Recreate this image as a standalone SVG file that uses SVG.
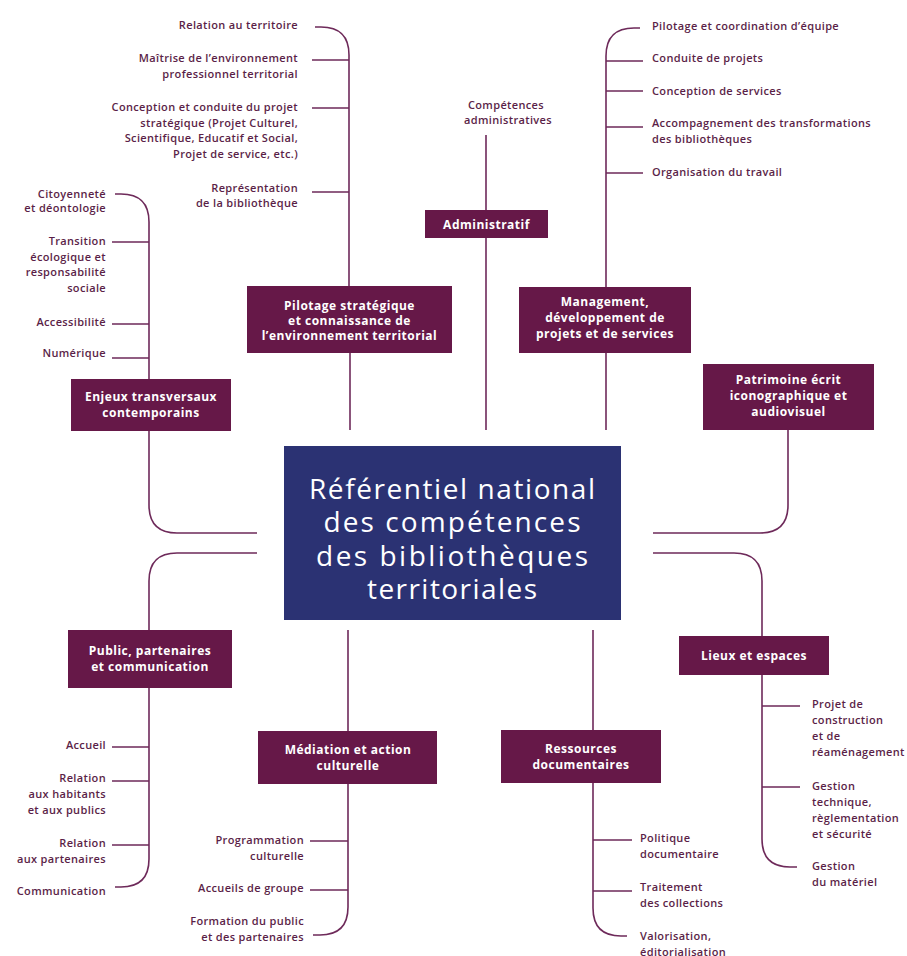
<svg xmlns="http://www.w3.org/2000/svg" width="907" height="956" viewBox="0 0 907 956">
<style>
.bg{fill:#ffffff}
.box{fill:#661848}
.center{fill:#2b3273}
.bt{font-family:"Open Sans","Liberation Sans",sans-serif;font-size:12px;letter-spacing:0.5px;font-weight:700;fill:#ffffff;text-anchor:middle}
.ct{font-family:"Open Sans","Liberation Sans",sans-serif;font-size:28px;font-weight:400;fill:#ffffff;text-anchor:middle}
.lf{font-family:"Open Sans","Liberation Sans",sans-serif;font-size:11px;letter-spacing:0.35px;font-weight:600;fill:#5b1f48}
.e{text-anchor:end}
.s{text-anchor:start}
.m{text-anchor:middle}
.ln{fill:none;stroke:#6e2a5a;stroke-width:1.6}
</style>
<rect class="bg" x="0" y="0" width="907" height="956"/>
<g id="connectors">
<path class="ln" d="M315,27 H321 Q349,27 349,55 V286"/>
<path class="ln" d="M312,60 H349 M312,108 H349 M312,192 H349"/>
<path class="ln" d="M350,353 V430"/>
<path class="ln" d="M486,135 V210 M486,238 V430"/>
<path class="ln" d="M640,28 H634 Q606,28 606,56 V287"/>
<path class="ln" d="M606,61 H643 M606,91 H643 M606,127 H643 M606,173 H643"/>
<path class="ln" d="M606,353 V430"/>
<path class="ln" d="M115,194 H121 Q149,194 149,222 V379"/>
<path class="ln" d="M112,242 H149 M112,324 H149 M112,358 H149"/>
<path class="ln" d="M149,431 V505 Q149,533 177,533 H257"/>
<path class="ln" d="M653,533 H760 Q788,533 788,505 V430"/>
<path class="ln" d="M257,553 H177 Q149,553 149,581 V630"/>
<path class="ln" d="M149,688 V859 Q149,887 121,887 H115"/>
<path class="ln" d="M112,747 H149 M112,781 H149 M112,845 H149"/>
<path class="ln" d="M348,630 V731 M348,784 V907 Q348,935 320,935 H313"/>
<path class="ln" d="M310,841 H348 M310,890 H348"/>
<path class="ln" d="M593,630 V730 M593,783 V908 Q593,936 621,936 H627"/>
<path class="ln" d="M593,840 H632 M593,891 H632"/>
<path class="ln" d="M653,553 H734 Q762,553 762,581 V636"/>
<path class="ln" d="M762,675 V839 Q762,867 790,867 H797"/>
<path class="ln" d="M762,706 H800 M762,787 H800"/>
</g>
<g id="center-node">
<rect class="center" x="284" y="446" width="337" height="174"/>
<text class="ct" x="452" y="499" textLength="286" lengthAdjust="spacing">Référentiel national</text>
<text class="ct" x="452" y="532" textLength="257" lengthAdjust="spacing">des compétences</text>
<text class="ct" x="452" y="566" textLength="272" lengthAdjust="spacing">des bibliothèques</text>
<text class="ct" x="452" y="599" textLength="170" lengthAdjust="spacing">territoriales</text>
</g>
<g id="node-pilotage">
<rect class="box" x="247" y="286" width="205" height="67"/>
<text class="bt" x="349.5" y="309.5">Pilotage stratégique</text>
<text class="bt" x="349.5" y="324.5">et connaissance de</text>
<text class="bt" x="349.5" y="339.5">l’environnement territorial</text>
</g>
<g id="leaves-pilotage">
<text class="lf e" x="298" y="29">Relation au territoire</text>
<text class="lf e" x="298" y="62">Maîtrise de l’environnement</text>
<text class="lf e" x="298" y="78">professionnel territorial</text>
<text class="lf e" x="298" y="111">Conception et conduite du projet</text>
<text class="lf e" x="298" y="126.7">stratégique (Projet Culturel,</text>
<text class="lf e" x="298" y="142.4">Scientifique, Educatif et Social,</text>
<text class="lf e" x="298" y="158">Projet de service, etc.)</text>
<text class="lf e" x="298" y="192">Représentation</text>
<text class="lf e" x="298" y="207">de la bibliothèque</text>
</g>
<g id="node-administratif">
<rect class="box" x="425" y="210" width="123" height="28"/>
<text class="bt" x="486.5" y="228.5">Administratif</text>
</g>
<g id="leaves-administratif">
<text class="lf m" x="506" y="109">Compétences</text>
<text class="lf m" x="508" y="124">administratives</text>
</g>
<g id="node-management">
<rect class="box" x="519" y="287" width="172" height="66"/>
<text class="bt" x="605" y="305.5">Management,</text>
<text class="bt" x="605" y="321.5">développement de</text>
<text class="bt" x="605" y="337.5">projets et de services</text>
</g>
<g id="leaves-management">
<text class="lf s" x="652" y="30">Pilotage et coordination d’équipe</text>
<text class="lf s" x="652" y="62">Conduite de projets</text>
<text class="lf s" x="652" y="95">Conception de services</text>
<text class="lf s" x="652" y="127">Accompagnement des transformations</text>
<text class="lf s" x="652" y="143">des bibliothèques</text>
<text class="lf s" x="652" y="176">Organisation du travail</text>
</g>
<g id="node-enjeux">
<rect class="box" x="71" y="379" width="160" height="52"/>
<text class="bt" x="151" y="401">Enjeux transversaux</text>
<text class="bt" x="151" y="417">contemporains</text>
</g>
<g id="leaves-enjeux">
<text class="lf e" x="106" y="198">Citoyenneté</text>
<text class="lf e" x="106" y="211.5">et déontologie</text>
<text class="lf e" x="106" y="244.7">Transition</text>
<text class="lf e" x="106" y="260.5">écologique et</text>
<text class="lf e" x="106" y="276.3">responsabilité</text>
<text class="lf e" x="106" y="292">sociale</text>
<text class="lf e" x="106" y="325.7">Accessibilité</text>
<text class="lf e" x="106" y="357">Numérique</text>
</g>
<g id="node-patrimoine">
<rect class="box" x="703" y="364" width="171" height="66"/>
<text class="bt" x="788.5" y="384">Patrimoine écrit</text>
<text class="bt" x="788.5" y="400">iconographique et</text>
<text class="bt" x="788.5" y="416">audiovisuel</text>
</g>
<g id="node-public">
<rect class="box" x="68" y="630" width="164" height="58"/>
<text class="bt" x="150" y="654.5">Public, partenaires</text>
<text class="bt" x="150" y="670.5">et communication</text>
</g>
<g id="leaves-public">
<text class="lf e" x="106" y="749">Accueil</text>
<text class="lf e" x="106" y="781.7">Relation</text>
<text class="lf e" x="106" y="798">aux habitants</text>
<text class="lf e" x="106" y="814">et aux publics</text>
<text class="lf e" x="106" y="846.7">Relation</text>
<text class="lf e" x="106" y="862.7">aux partenaires</text>
<text class="lf e" x="106" y="894.7">Communication</text>
</g>
<g id="node-mediation">
<rect class="box" x="258" y="731" width="179" height="53"/>
<text class="bt" x="348" y="753.8">Médiation et action</text>
<text class="bt" x="348" y="769.8">culturelle</text>
</g>
<g id="leaves-mediation">
<text class="lf e" x="304" y="844">Programmation</text>
<text class="lf e" x="304" y="860">culturelle</text>
<text class="lf e" x="304" y="892.3">Accueils de groupe</text>
<text class="lf e" x="304" y="924.7">Formation du public</text>
<text class="lf e" x="304" y="940.7">et des partenaires</text>
</g>
<g id="node-ressources">
<rect class="box" x="501" y="730" width="160" height="53"/>
<text class="bt" x="581" y="752.8">Ressources</text>
<text class="bt" x="581" y="768.8">documentaires</text>
</g>
<g id="leaves-ressources">
<text class="lf s" x="640" y="842.3">Politique</text>
<text class="lf s" x="640" y="858.3">documentaire</text>
<text class="lf s" x="640" y="891.3">Traitement</text>
<text class="lf s" x="640" y="907.3">des collections</text>
<text class="lf s" x="640" y="940">Valorisation,</text>
<text class="lf s" x="640" y="956">éditorialisation</text>
</g>
<g id="node-lieux">
<rect class="box" x="679" y="636" width="150" height="39"/>
<text class="bt" x="754" y="660">Lieux et espaces</text>
</g>
<g id="leaves-lieux">
<text class="lf s" x="812" y="708">Projet de</text>
<text class="lf s" x="812" y="724">construction</text>
<text class="lf s" x="812" y="740">et de</text>
<text class="lf s" x="812" y="756">réaménagement</text>
<text class="lf s" x="812" y="789.7">Gestion</text>
<text class="lf s" x="812" y="805.7">technique,</text>
<text class="lf s" x="812" y="821.7">règlementation</text>
<text class="lf s" x="812" y="837.7">et sécurité</text>
<text class="lf s" x="812" y="870">Gestion</text>
<text class="lf s" x="812" y="886">du matériel</text>
</g>
</svg>
